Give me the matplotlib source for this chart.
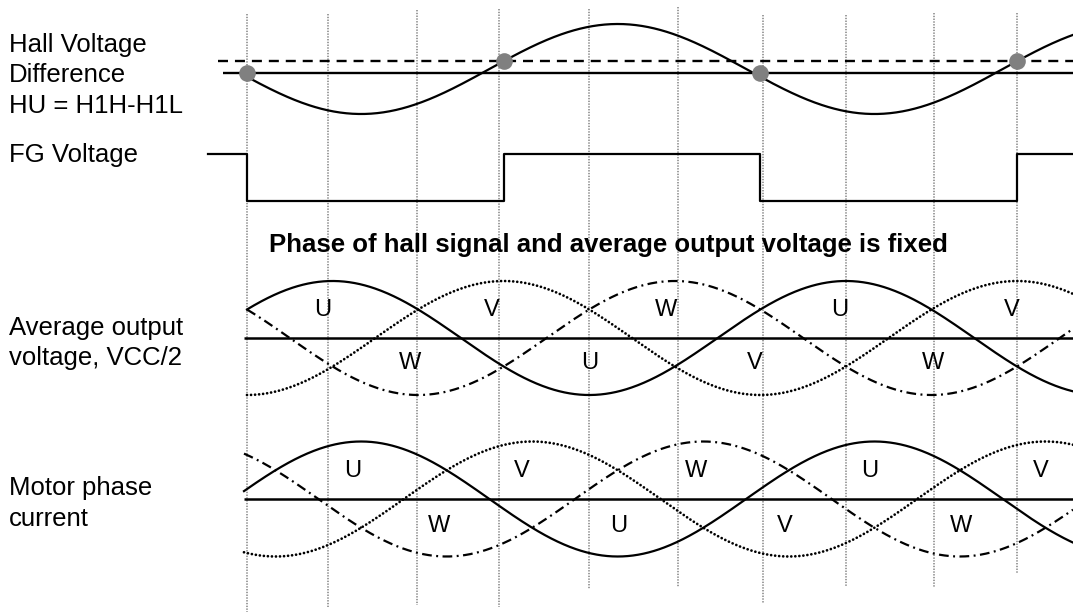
import numpy as np
import matplotlib
matplotlib.use("Agg")
from matplotlib import pyplot as plt

plt.rcParams['font.family'] = ['Liberation Sans', 'DejaVu Sans']
plt.rcParams['lines.scale_dashes'] = False

# electrical angle (deg) of the grey marker lines, as drawn
marker_deg = [0, 57, 119, 177, 240, 302, 362, 420, 482, 540]
marker_top = [14, 14, 10, 9, 9, 7, 15, 15, 13, 13]
marker_bottom = [612, 607, 605, 607, 589, 587, 603, 587, 588, 573]

# hall difference signal (normalised), thresholds and switching points
hall_min_deg = 80
hall_thr_solid = -0.09
hall_thr_dash = 0.18
hall_dot_deg = [0, 180, 360, 540]
hall_dot_thr = ['solid', 'dash', 'solid', 'dash']

# FG output edges, starts high
fg_edges = [0, 180, 360, 540]

# peak angle of each phase
phases = ['U', 'V', 'W']
volt_peak_deg = [60, 180, 300]
curr_peak_deg = [80, 200, 320]

# phase name labels
volt_top_lbl = ['U', 'V', 'W', 'U', 'V']
volt_top_deg = [53, 172, 294, 416, 536]
volt_bot_lbl = ['W', 'U', 'V', 'W']
volt_bot_deg = [114, 240, 356, 481]
curr_top_lbl = ['U', 'V', 'W', 'U', 'V']
curr_top_deg = [74, 193, 315, 437, 557]
curr_bot_lbl = ['W', 'U', 'V', 'W']
curr_bot_deg = [135, 261, 377, 501]

row_names = [['Hall Voltage', 'Difference', 'HU = H1H-H1L'], ['FG Voltage'],
             ['Average output', 'voltage, VCC/2'], ['Motor phase', 'current']]
title = 'Phase of hall signal and average output voltage is fixed'

##############################
# layout (pixels, y downwards)
##############################
W, H = 1073, 614
X0 = 247.0
PX = (1017 - 247) / 540.0
def deg(px):
    return (px - X0) / PX

XMAX = deg(W)
HALL_MID, HALL_AMP = 69, 45
FG_LOW, FG_HIGH = 201, 154
VOLT_MID, VOLT_AMP = 338, 57
CURR_MID, CURR_AMP = 499, 57.5
LW = 1.6
STYLES = {'U': dict(linestyle='-', lw=LW),
          'V': dict(linestyle=(0, (0.01, 2.9)), dash_capstyle='round', lw=2.0),
          'W': dict(linestyle=(0, (7.0, 3.2, 1.4, 3.2)), lw=LW)}

fig = plt.figure(figsize=(W / 100, H / 100), dpi=100)
ax = fig.add_axes([0, 0, 1, 1])
ax.set_xlim(deg(0), XMAX)
ax.set_ylim(H, 0)
ax.axis('off')

# marker lines
for d, t, b in zip(marker_deg, marker_top, marker_bottom):
    ax.plot([d, d], [t, b], color='#8c8c8c', lw=1.2, linestyle=(0, (1.0, 1.0)), zorder=1)

# hall row
y_solid = HALL_MID - HALL_AMP * hall_thr_solid
y_dash = HALL_MID - HALL_AMP * hall_thr_dash
ax.plot([deg(223), XMAX], [y_solid, y_solid], color='black', lw=1.7, solid_capstyle='butt', zorder=2)
ax.plot([deg(218), XMAX], [y_dash, y_dash], color='black', lw=1.7, linestyle=(0, (7.2, 5.0)), zorder=2)
th = np.linspace(0, XMAX, 800)
ax.plot(th, HALL_MID + HALL_AMP * np.cos(np.radians(th - hall_min_deg)), color='black', lw=LW, zorder=3)
for d, t in zip(hall_dot_deg, hall_dot_thr):
    ax.plot(d, y_solid if t == 'solid' else y_dash, 'o', color='#808080', ms=12, mec='none', zorder=4)

# FG row
fx, fy = [deg(208)], [1]
lvl = 1
for e in fg_edges:
    fx += [e, e]
    fy += [lvl, 1 - lvl]
    lvl = 1 - lvl
fx.append(XMAX)
fy.append(lvl)
ax.plot(fx, [FG_LOW - (FG_LOW - FG_HIGH) * v for v in fy], color='black', lw=LW, zorder=3)

ax.text(deg(269), 252, title, fontsize=18.5, fontweight='bold', ha='left', va='baseline')

# voltage and current rows
def phase_row(mid, amp, peaks, start, top_lbl, top_deg, bot_lbl, bot_deg, top_off, bot_off):
    ax.plot([deg(244), XMAX], [mid, mid], color='black', lw=1.8, solid_capstyle='butt', zorder=2)
    t = np.linspace(start, XMAX, 800)
    for name, p in zip(phases, peaks):
        ax.plot(t, mid - amp * np.cos(np.radians(t - p)), color='black', zorder=3, **STYLES[name])
    for s, d in zip(top_lbl, top_deg):
        ax.text(d, mid + top_off, s, fontsize=17, ha='center', va='center')
    for s, d in zip(bot_lbl, bot_deg):
        ax.text(d, mid + bot_off, s, fontsize=17, ha='center', va='center')

phase_row(VOLT_MID, VOLT_AMP, volt_peak_deg, 0, volt_top_lbl, volt_top_deg, volt_bot_lbl, volt_bot_deg, -28, 25)
phase_row(CURR_MID, CURR_AMP, curr_peak_deg, deg(244), curr_top_lbl, curr_top_deg, curr_bot_lbl, curr_bot_deg, -28, 27)

# row names on the left
baselines = [[52, 82, 113], [162], [335, 365], [495, 526]]
for lines, ys in zip(row_names, baselines):
    for s, y in zip(lines, ys):
        ax.text(deg(9), y, s, fontsize=18.5, ha='left', va='baseline')

fig.savefig('out.png', dpi=100)
